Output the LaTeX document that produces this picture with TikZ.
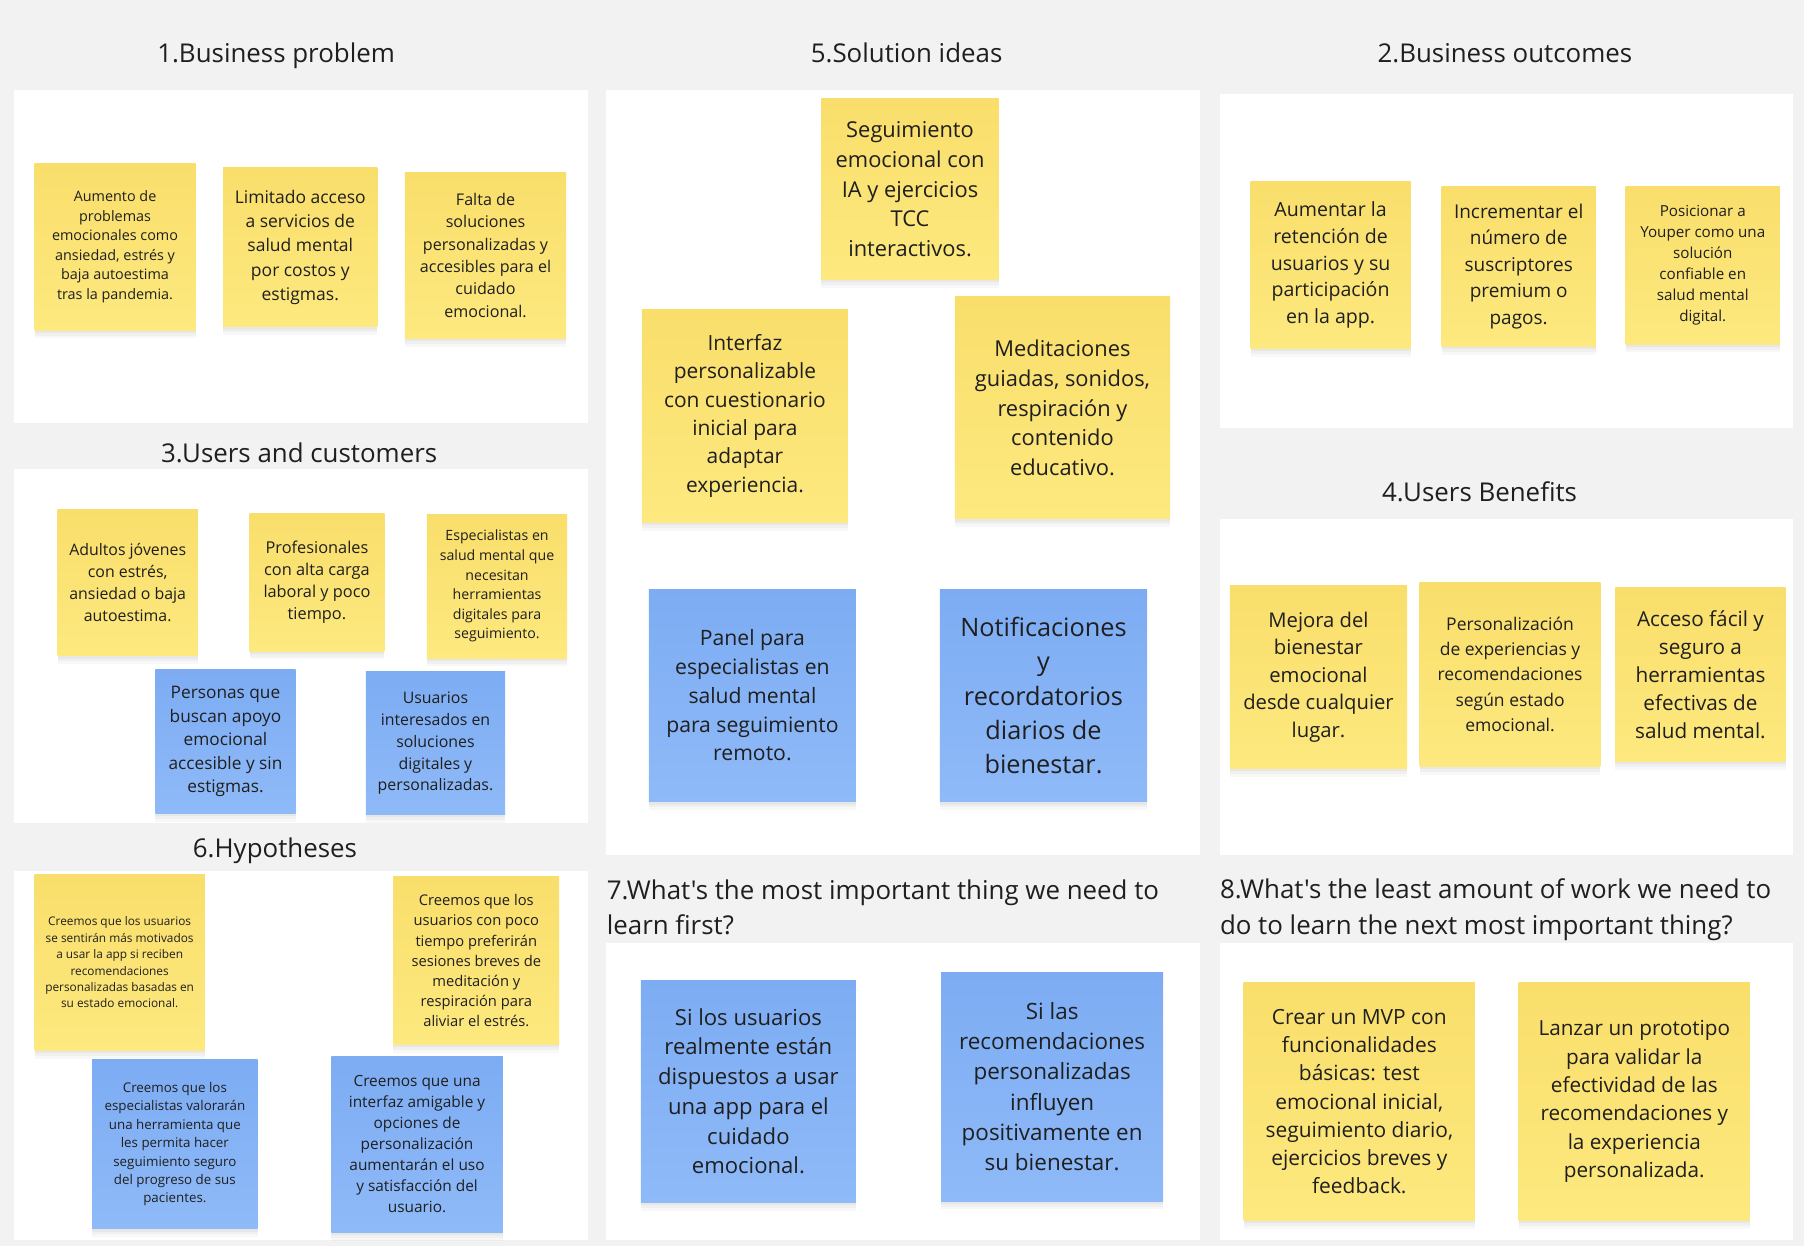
\documentclass[tikz,border=0pt]{standalone}
\usepackage{fontspec}
\setmainfont{Open Sans}[Ligatures=TeXOff]
\usetikzlibrary{shadows}
\definecolor{bgc}{HTML}{F2F2F2}
\definecolor{yT}{HTML}{F9DE6B}
\definecolor{yB}{HTML}{FDE97F}
\definecolor{bT}{HTML}{7DACF3}
\definecolor{bB}{HTML}{8FBAF8}
\definecolor{ink}{HTML}{1F1F1F}
\tikzset{
  notebase/.style={rectangle, inner sep=0pt, align=center, text=ink,
    drop shadow={opacity=0.05, shadow xshift=0pt, shadow yshift=-3.6pt},
    drop shadow={opacity=0.06, shadow xshift=0pt, shadow yshift=-2.4pt},
    drop shadow={opacity=0.08, shadow xshift=0pt, shadow yshift=-1.2pt}},
  ynote/.style={notebase, top color=yT, bottom color=yB},
  bnote/.style={notebase, top color=bT, bottom color=bB},
  ttl/.style={inner sep=0pt, text=ink, font=\fontsize{11.25pt}{15.5pt}\selectfont},
  panel/.style={fill=white}
}
\newcommand\sticky[9]{%
  \node[#2, minimum width={(#5-#3)*0.5pt}, minimum height={(#6-#4)*0.5pt},
        font={\fontsize{#7}{#8}\selectfont}] (#1) at ({(#3+#5)/2},{(#4+#6)/2}) {#9};}
\begin{document}
\begin{tikzpicture}[x=0.5pt,y=-0.5pt]
\fill[bgc] (0,0) rectangle (1568,1083);
\useasboundingbox (0,0) rectangle (1568,1083);
% panels
\fill[panel] (12,78) rectangle (511,368);
\fill[panel] (12,408) rectangle (511,715);
\fill[panel] (12,757) rectangle (511,1078);
\fill[panel] (527,78) rectangle (1043,743);
\fill[panel] (527,820) rectangle (1043,1078);
\fill[panel] (1060,82) rectangle (1558,372);
\fill[panel] (1060,451) rectangle (1558,743);
\fill[panel] (1060,820) rectangle (1558,1078);
% titles
\node[ttl, anchor=base] (t1) at (240,54) {1.Business problem};
\node[ttl, anchor=base] (t5) at (788,54) {5.Solution ideas};
\node[ttl, anchor=base] (t2) at (1308,54) {2.Business outcomes};
\node[ttl, anchor=base] (t3) at (260,402) {3.Users and customers};
\node[ttl, anchor=base] (t4) at (1286,436) {4.Users Benefits};
\node[ttl, anchor=base] (t6) at (239,745) {6.Hypotheses};
\node[ttl, anchor=west, align=left] (t7) at (527,788.5) {7.What's the most important thing we need to\\learn first?};
\node[ttl, anchor=west, align=left] (t8) at (1060,790.5) {8.What's the least amount of work we need to\\do to learn the next most important thing?};
% 1. Business problem
\sticky{a1}{ynote}{30}{142}{170}{287}{6.25pt}{8.5pt}{Aumento de\\problemas\\emocionales como\\ansiedad, estrés y\\baja autoestima\\tras la pandemia.}
\sticky{a2}{ynote}{194}{146}{328}{284}{7.6pt}{10.5pt}{Limitado acceso\\a servicios de\\salud mental\\por costos y\\estigmas.}
\sticky{a3}{ynote}{352}{150}{492}{294}{7pt}{9.7pt}{Falta de\\soluciones\\personalizadas y\\accesibles para el\\cuidado\\emocional.}
% 2. Business outcomes
\sticky{b1}{ynote}{1087}{158}{1226}{303}{8.5pt}{11.6pt}{Aumentar la\\retención de\\usuarios y su\\participación\\en la app.}
\sticky{b2}{ynote}{1253}{162}{1387}{301}{8.25pt}{11.5pt}{Incrementar el\\número de\\suscriptores\\premium o\\pagos.}
\sticky{b3}{ynote}{1413}{162}{1547}{299}{6.6pt}{9.2pt}{Posicionar a\\Youper como una\\solución\\confiable en\\salud mental\\digital.}
% 3. Users and customers
\sticky{c1}{ynote}{50}{443}{172}{570}{6.9pt}{9.5pt}{Adultos jóvenes\\con estrés,\\ansiedad o baja\\autoestima.}
\sticky{c2}{ynote}{217}{446}{334}{566}{7.1pt}{9.65pt}{Profesionales\\con alta carga\\laboral y poco\\tiempo.}
\sticky{c3}{ynote}{371}{447}{493}{572}{6.15pt}{8.5pt}{Especialistas en\\salud mental que\\necesitan\\herramientas\\digitales para\\seguimiento.}
\sticky{c4}{bnote}{135}{582}{257}{707}{7.5pt}{10.25pt}{Personas que\\buscan apoyo\\emocional\\accesible y sin\\estigmas.}
\sticky{c5}{bnote}{318}{584}{439}{708}{6.9pt}{9.5pt}{Usuarios\\interesados en\\soluciones\\digitales y\\personalizadas.}
% 6. Hypotheses
\sticky{h1}{ynote}{30}{760}{178}{913}{5.15pt}{7.1pt}{Creemos que los usuarios\\se sentirán más motivados\\a usar la app si reciben\\recomendaciones\\personalizadas basadas en\\su estado emocional.}
\sticky{h2}{ynote}{342}{762}{486}{908}{6.4pt}{8.75pt}{Creemos que los\\usuarios con poco\\tiempo preferirán\\sesiones breves de\\meditación y\\respiración para\\aliviar el estrés.}
\sticky{h3}{bnote}{80}{921}{224}{1068}{5.8pt}{8pt}{Creemos que los\\especialistas valorarán\\una herramienta que\\les permita hacer\\seguimiento seguro\\del progreso de sus\\pacientes.}
\sticky{h4}{bnote}{288}{918}{437}{1071}{6.7pt}{9.1pt}{Creemos que una\\interfaz amigable y\\opciones de\\personalización\\aumentarán el uso\\y satisfacción del\\usuario.}
% 5. Solution ideas
\sticky{s1}{ynote}{714}{86}{868}{243}{9.5pt}{12.9pt}{Seguimiento\\emocional con\\IA y ejercicios\\TCC\\interactivos.}
\sticky{s2}{ynote}{558}{269}{737}{454}{9.1pt}{12.3pt}{Interfaz\\personalizable\\con cuestionario\\inicial para\\adaptar\\experiencia.}
\sticky{s3}{ynote}{830}{258}{1017}{451}{9.5pt}{13pt}{Meditaciones\\guiadas, sonidos,\\respiración y\\contenido\\educativo.}
\sticky{s4}{bnote}{564}{512}{744}{697}{9.2pt}{12.5pt}{Panel para\\especialistas en\\salud mental\\para seguimiento\\remoto.}
\sticky{s5}{bnote}{817}{512}{997}{697}{11pt}{14.9pt}{Notificaciones\\y\\recordatorios\\diarios de\\bienestar.}
% 4. Users Benefits
\sticky{u1}{ynote}{1069}{509}{1223}{668}{8.8pt}{12pt}{Mejora del\\bienestar\\emocional\\desde cualquier\\lugar.}
\sticky{u2}{ynote}{1234}{506}{1391}{666}{7.6pt}{11pt}{Personalización\\de experiencias y\\recomendaciones\\según estado\\emocional.}
\sticky{u3}{ynote}{1404}{511}{1552}{662}{9pt}{12.25pt}{Acceso fácil y\\seguro a\\herramientas\\efectivas de\\salud mental.}
% 7.
\sticky{l1}{bnote}{557}{852}{744}{1045}{9.6pt}{12.9pt}{Si los usuarios\\realmente están\\dispuestos a usar\\una app para el\\cuidado\\emocional.}
\sticky{l2}{bnote}{818}{845}{1011}{1044}{9.75pt}{13.2pt}{Si las\\recomendaciones\\personalizadas\\influyen\\positivamente en\\su bienestar.}
% 8.
\sticky{w1}{ynote}{1081}{854}{1282}{1061}{9.1pt}{12.3pt}{Crear un MVP con\\funcionalidades\\básicas: test\\emocional inicial,\\seguimiento diario,\\ejercicios breves y\\feedback.}
\sticky{w2}{ynote}{1320}{854}{1521}{1061}{9pt}{12.3pt}{Lanzar un prototipo\\para validar la\\efectividad de las\\recomendaciones y\\la experiencia\\personalizada.}
\end{tikzpicture}
\end{document}
